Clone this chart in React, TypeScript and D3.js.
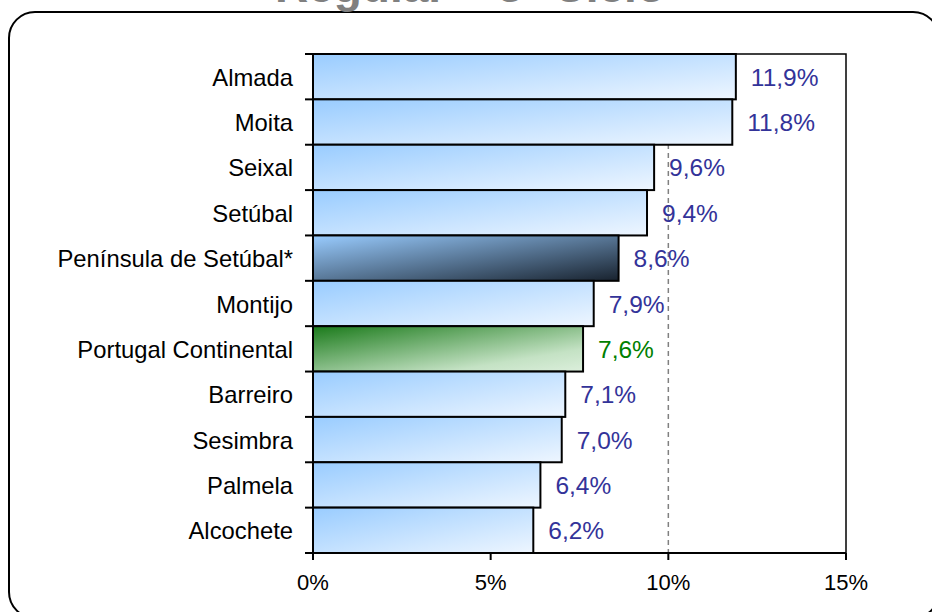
import React from "react";
import * as d3 from "d3";

const categories = [
  "Almada",
  "Moita",
  "Seixal",
  "Setúbal",
  "Península de Setúbal*",
  "Montijo",
  "Portugal Continental",
  "Barreiro",
  "Sesimbra",
  "Palmela",
  "Alcochete",
];
const values = [11.9, 11.8, 9.6, 9.4, 8.6, 7.9, 7.6, 7.1, 7.0, 6.4, 6.2];
const xTicks = [0, 5, 10, 15];
const title = "Regular – 3º Ciclo";

const W = 932;
const H = 612;
const left = 313;
const right = 846;
const top = 54;
const bottom = 553;

export default function App() {
  const x = d3.scaleLinear().domain([0, 15]).range([left, right]);
  const y = d3.scaleBand().domain(categories).range([top, bottom]).padding(0);
  const fmt = (v: number) => v.toFixed(1).replace(".", ",") + "%";
  const font = "'Liberation Sans', Arial, Helvetica, sans-serif";

  const gradFor = (c: string) =>
    c === "Península de Setúbal*" ? "url(#gDark)" : c === "Portugal Continental" ? "url(#gGreen)" : "url(#gBlue)";

  return (
    <svg
      width={W}
      height={H}
      style={{ position: "absolute", left: 0, top: 0, background: "#fff" }}
      fontFamily={font}
    >
      <defs>
        <linearGradient id="gBlue" x1="0" y1="0" x2="1" y2="1">
          <stop offset="0" stopColor="#99ccff" />
          <stop offset="1" stopColor="#eef6ff" />
        </linearGradient>
        <linearGradient id="gDark" x1="0" y1="0" x2="1" y2="1">
          <stop offset="0" stopColor="#99ccff" />
          <stop offset="1" stopColor="#18222e" />
        </linearGradient>
        <linearGradient id="gGreen" x1="0" y1="0" x2="1" y2="1">
          <stop offset="0" stopColor="#1a7a1a" />
          <stop offset="0.75" stopColor="#c4e2c4" />
          <stop offset="1" stopColor="#dcefdc" />
        </linearGradient>
      </defs>

      <rect x={9} y={12} width={930} height={606} rx={26} ry={26} fill="#fff" stroke="#000" strokeWidth={2} />

      <text x={470} y={2} textAnchor="middle" fontSize={46} fontWeight="bold" fill="#808080">
        {title}
      </text>

      {/* plot frame */}
      <rect x={left} y={top} width={right - left} height={bottom - top} fill="none" stroke="#000" strokeWidth={1.5} />

      {/* dashed line at 10% */}
      <line x1={x(10)} x2={x(10)} y1={top} y2={bottom} stroke="#808080" strokeWidth={1.5} strokeDasharray="5,4" />

      {/* bars */}
      {categories.map((c, i) => (
        <rect
          key={c}
          x={x(0)}
          y={y(c)!}
          width={x(values[i]) - x(0)}
          height={y.bandwidth()}
          fill={gradFor(c)}
          stroke="#000"
          strokeWidth={2}
        />
      ))}

      {/* value labels */}
      {categories.map((c, i) => (
        <text
          key={c + "v"}
          x={x(values[i]) + 15}
          y={y(c)! + y.bandwidth() / 2 + 9}
          fontSize={24.5}
          fill={c === "Portugal Continental" ? "#008000" : "#333399"}
        >
          {fmt(values[i])}
        </text>
      ))}

      {/* y axis */}
      <line x1={left} x2={left} y1={top} y2={bottom} stroke="#000" strokeWidth={2} />
      {d3.range(categories.length + 1).map((k) => {
        const yy = top + k * y.step();
        return <line key={"yt" + k} x1={left - 8} x2={left} y1={yy} y2={yy} stroke="#000" strokeWidth={2} />;
      })}
      {categories.map((c) => (
        <text
          key={c + "l"}
          x={293}
          y={y(c)! + y.bandwidth() / 2 + 9}
          fontSize={23.8}
          textAnchor="end"
          fill="#000"
        >
          {c}
        </text>
      ))}

      {/* x axis */}
      <line x1={left} x2={right} y1={bottom} y2={bottom} stroke="#000" strokeWidth={2} />
      {xTicks.map((t) => (
        <g key={"xt" + t}>
          <line x1={x(t)} x2={x(t)} y1={bottom} y2={bottom + 7} stroke="#000" strokeWidth={2} />
          <text x={x(t)} y={590} fontSize={22} textAnchor="middle" fill="#000">
            {t + "%"}
          </text>
        </g>
      ))}
    </svg>
  );
}
